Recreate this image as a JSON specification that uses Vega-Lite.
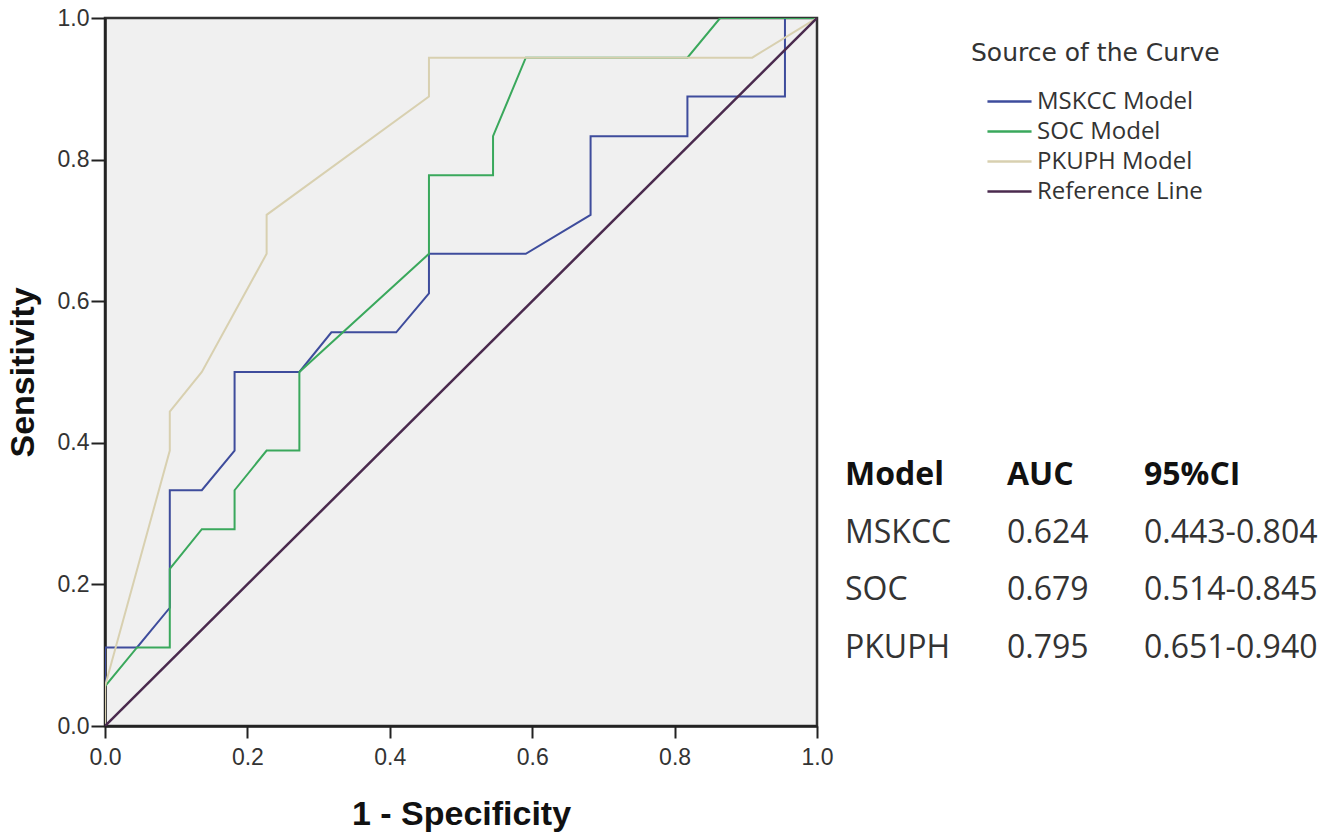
{
  "$schema": "https://vega.github.io/schema/vega-lite/v6.json",
  "background": "white",
  "padding": {"left": 4, "top": 5, "right": 0, "bottom": 0},
  "spacing": 10,
  "config": {"view": {"stroke": null}},
  "datasets": {
    "roc": [
      {"curve": "MSKCC Model", "step": 0, "fpr": 0, "tpr": 0},
      {"curve": "MSKCC Model", "step": 1, "fpr": 0, "tpr": 0.111},
      {"curve": "MSKCC Model", "step": 2, "fpr": 0.045, "tpr": 0.111},
      {"curve": "MSKCC Model", "step": 3, "fpr": 0.091, "tpr": 0.167},
      {"curve": "MSKCC Model", "step": 4, "fpr": 0.091, "tpr": 0.333},
      {"curve": "MSKCC Model", "step": 5, "fpr": 0.136, "tpr": 0.333},
      {"curve": "MSKCC Model", "step": 6, "fpr": 0.182, "tpr": 0.389},
      {"curve": "MSKCC Model", "step": 7, "fpr": 0.182, "tpr": 0.5},
      {"curve": "MSKCC Model", "step": 8, "fpr": 0.273, "tpr": 0.5},
      {"curve": "MSKCC Model", "step": 9, "fpr": 0.318, "tpr": 0.556},
      {"curve": "MSKCC Model", "step": 10, "fpr": 0.409, "tpr": 0.556},
      {"curve": "MSKCC Model", "step": 11, "fpr": 0.455, "tpr": 0.611},
      {"curve": "MSKCC Model", "step": 12, "fpr": 0.455, "tpr": 0.667},
      {"curve": "MSKCC Model", "step": 13, "fpr": 0.591, "tpr": 0.667},
      {"curve": "MSKCC Model", "step": 14, "fpr": 0.682, "tpr": 0.722},
      {"curve": "MSKCC Model", "step": 15, "fpr": 0.682, "tpr": 0.833},
      {"curve": "MSKCC Model", "step": 16, "fpr": 0.818, "tpr": 0.833},
      {"curve": "MSKCC Model", "step": 17, "fpr": 0.818, "tpr": 0.889},
      {"curve": "MSKCC Model", "step": 18, "fpr": 0.955, "tpr": 0.889},
      {"curve": "MSKCC Model", "step": 19, "fpr": 0.955, "tpr": 1},
      {"curve": "MSKCC Model", "step": 20, "fpr": 1, "tpr": 1},
      {"curve": "SOC Model", "step": 0, "fpr": 0, "tpr": 0},
      {"curve": "SOC Model", "step": 1, "fpr": 0, "tpr": 0.056},
      {"curve": "SOC Model", "step": 2, "fpr": 0.045, "tpr": 0.111},
      {"curve": "SOC Model", "step": 3, "fpr": 0.091, "tpr": 0.111},
      {"curve": "SOC Model", "step": 4, "fpr": 0.091, "tpr": 0.222},
      {"curve": "SOC Model", "step": 5, "fpr": 0.136, "tpr": 0.278},
      {"curve": "SOC Model", "step": 6, "fpr": 0.182, "tpr": 0.278},
      {"curve": "SOC Model", "step": 7, "fpr": 0.182, "tpr": 0.333},
      {"curve": "SOC Model", "step": 8, "fpr": 0.227, "tpr": 0.389},
      {"curve": "SOC Model", "step": 9, "fpr": 0.273, "tpr": 0.389},
      {"curve": "SOC Model", "step": 10, "fpr": 0.273, "tpr": 0.5},
      {"curve": "SOC Model", "step": 11, "fpr": 0.455, "tpr": 0.667},
      {"curve": "SOC Model", "step": 12, "fpr": 0.455, "tpr": 0.778},
      {"curve": "SOC Model", "step": 13, "fpr": 0.545, "tpr": 0.778},
      {"curve": "SOC Model", "step": 14, "fpr": 0.545, "tpr": 0.833},
      {"curve": "SOC Model", "step": 15, "fpr": 0.591, "tpr": 0.944},
      {"curve": "SOC Model", "step": 16, "fpr": 0.818, "tpr": 0.944},
      {"curve": "SOC Model", "step": 17, "fpr": 0.864, "tpr": 1},
      {"curve": "SOC Model", "step": 18, "fpr": 1, "tpr": 1},
      {"curve": "PKUPH Model", "step": 0, "fpr": 0, "tpr": 0},
      {"curve": "PKUPH Model", "step": 1, "fpr": 0, "tpr": 0.056},
      {"curve": "PKUPH Model", "step": 2, "fpr": 0.091, "tpr": 0.389},
      {"curve": "PKUPH Model", "step": 3, "fpr": 0.091, "tpr": 0.444},
      {"curve": "PKUPH Model", "step": 4, "fpr": 0.136, "tpr": 0.5},
      {"curve": "PKUPH Model", "step": 5, "fpr": 0.227, "tpr": 0.667},
      {"curve": "PKUPH Model", "step": 6, "fpr": 0.227, "tpr": 0.722},
      {"curve": "PKUPH Model", "step": 7, "fpr": 0.455, "tpr": 0.889},
      {"curve": "PKUPH Model", "step": 8, "fpr": 0.455, "tpr": 0.944},
      {"curve": "PKUPH Model", "step": 9, "fpr": 0.909, "tpr": 0.944},
      {"curve": "PKUPH Model", "step": 10, "fpr": 1, "tpr": 1},
      {"curve": "Reference Line", "step": 0, "fpr": 0, "tpr": 0},
      {"curve": "Reference Line", "step": 1, "fpr": 1, "tpr": 1}
    ],
    "table": [
      {"row": "header", "col": 1, "text": "Model"},
      {"row": "header", "col": 2, "text": "AUC"},
      {"row": "header", "col": 3, "text": "95%CI"},
      {"row": "MSKCC", "col": 1, "text": "MSKCC"},
      {"row": "MSKCC", "col": 2, "text": "0.624"},
      {"row": "MSKCC", "col": 3, "text": "0.443-0.804"},
      {"row": "SOC", "col": 1, "text": "SOC"},
      {"row": "SOC", "col": 2, "text": "0.679"},
      {"row": "SOC", "col": 3, "text": "0.514-0.845"},
      {"row": "PKUPH", "col": 1, "text": "PKUPH"},
      {"row": "PKUPH", "col": 2, "text": "0.795"},
      {"row": "PKUPH", "col": 3, "text": "0.651-0.940"}
    ]
  },
  "hconcat": [
    {
      "width": 712,
      "height": 708,
      "view": {"fill": "#f0f0f0", "stroke": "#333333", "strokeWidth": 2.5},
      "data": {"name": "roc"},
      "mark": {"type": "line", "clip": true},
      "encoding": {
        "x": {
          "field": "fpr", "type": "quantitative", "title": "1 - Specificity",
          "scale": {"domain": [0, 1], "nice": false, "zero": false},
          "axis": {
            "values": [0, 0.2, 0.4, 0.6, 0.8, 1], "format": ".1f", "grid": false,
            "labelFont": "Liberation Sans", "labelFontSize": 23, "labelColor": "#333333",
            "labelFlush": false, "labelOverlap": false, "labelPadding": 8,
            "tickSize": 12, "tickWidth": 2, "tickColor": "#222222",
            "domainColor": "#222222", "domainWidth": 2.5,
            "titleFont": "Liberation Sans", "titleFontSize": 34, "titleFontWeight": "bold",
            "titleColor": "#111111", "titlePadding": 28
          }
        },
        "y": {
          "field": "tpr", "type": "quantitative", "title": "Sensitivity",
          "scale": {"domain": [0, 1], "nice": false, "zero": false},
          "axis": {
            "values": [0, 0.2, 0.4, 0.6, 0.8, 1], "format": ".1f", "grid": false,
            "labelFont": "Liberation Sans", "labelFontSize": 23, "labelColor": "#333333",
            "labelFlush": false, "labelOverlap": false, "labelPadding": 2,
            "tickSize": 14, "tickWidth": 2, "tickColor": "#222222",
            "domainColor": "#222222", "domainWidth": 2.5,
            "titleFont": "Liberation Sans", "titleFontSize": 34, "titleFontWeight": "bold",
            "titleColor": "#111111", "titlePadding": 17
          }
        },
        "color": {
          "field": "curve", "type": "nominal",
          "scale": {
            "domain": ["MSKCC Model", "SOC Model", "PKUPH Model", "Reference Line"],
            "range": ["#3e4c9c", "#3aa85c", "#d8d0b0", "#4a2a4e"]
          },
          "legend": {
            "orient": "none", "legendX": 866, "legendY": 23, "direction": "vertical",
            "title": "Source of the Curve", "titleFont": "DejaVu Sans", "titleFontSize": 25,
            "titleFontWeight": "normal", "titleColor": "#333333", "titlePadding": 19, "titleLimit": 500,
            "labelFont": "Open Sans", "labelFontSize": 24, "labelColor": "#333333", "labelLimit": 300,
            "symbolType": "M-1.47,0H1.47", "symbolSize": 900, "symbolStrokeWidth": 2.5,
            "symbolOffset": 22, "labelOffset": 11, "rowPadding": 1, "padding": 0
          }
        },
        "strokeWidth": {
          "condition": {"test": "datum.curve === 'Reference Line'", "value": 2.5},
          "value": 2
        },
        "order": {"field": "step", "type": "quantitative"}
      }
    },
    {
      "width": 490,
      "height": 708,
      "data": {"name": "table"},
      "encoding": {
        "x": {
          "field": "col", "type": "quantitative", "axis": null,
          "scale": {"domain": [1, 2, 3], "range": [-3, 159, 296], "zero": false, "nice": false}
        },
        "y": {
          "field": "row", "type": "nominal", "axis": null,
          "scale": {"type": "point", "domain": ["header", "MSKCC", "SOC", "PKUPH"], "range": [457, 630], "padding": 0}
        },
        "text": {"field": "text"}
      },
      "layer": [
        {
          "transform": [{"filter": "datum.row === 'header'"}],
          "mark": {"type": "text", "align": "left", "baseline": "middle", "font": "Open Sans", "fontSize": 32, "fontWeight": "bold", "color": "#111111"}
        },
        {
          "transform": [{"filter": "datum.row !== 'header'"}],
          "mark": {"type": "text", "align": "left", "baseline": "middle", "font": "Open Sans", "fontSize": 32, "color": "#333333"}
        }
      ]
    }
  ]
}
